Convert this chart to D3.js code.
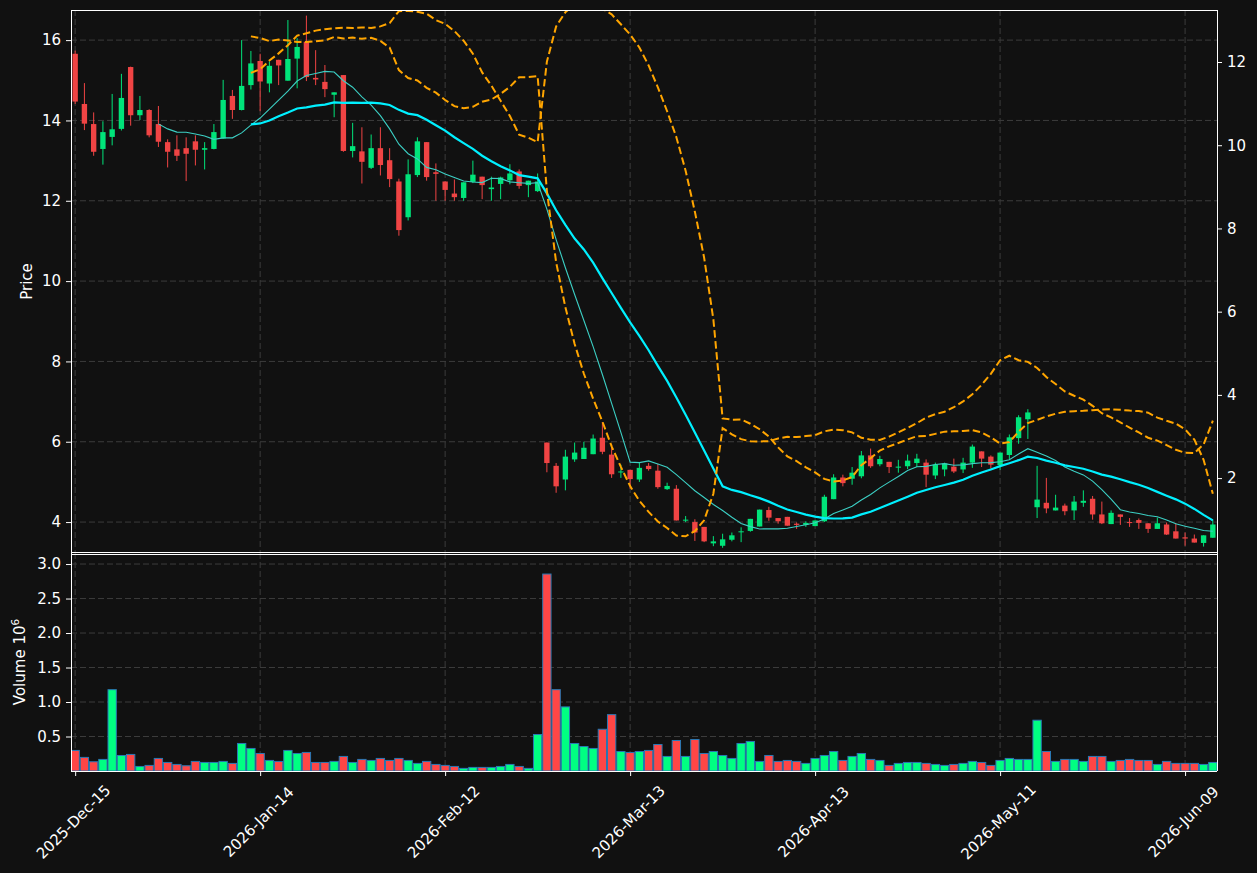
<!DOCTYPE html>
<html><head><meta charset="utf-8">
<script src="https://cdn.jsdelivr.net/npm/d3@7"></script>
<style>html,body{margin:0;padding:0;background:#111111;} svg{display:block;}</style>
</head><body><div id="chart"></div>
<script>
// ---------------- data ----------------
const openP  = [15.66,14.41,13.91,13.29,13.59,13.79,15.33,14.13,14.26,13.91,13.46,13.28,13.31,13.48,13.27,13.29,13.55,14.61,14.26,14.88,
15.48,14.92,15.51,14.99,15.54,15.96,15.06,14.96,14.64,15.13,13.24,13.23,12.82,13.31,13.01,12.48,11.59,12.64,13.46,12.71,
12.48,12.18,12.07,12.47,12.60,12.29,12.42,12.51,12.73,12.39,12.24,5.98,5.40,5.06,5.56,5.57,5.69,6.10,5.68,5.24,
5.30,5.06,5.40,5.28,4.82,4.83,4.05,4.00,3.88,3.47,3.41,3.56,3.75,3.78,3.89,4.30,4.10,4.13,3.96,3.93,
3.90,4.02,4.57,5.11,5.08,5.14,5.66,5.44,5.50,5.36,5.39,5.47,5.48,5.16,5.31,5.38,5.31,5.48,5.76,5.63,
5.42,5.67,6.09,6.56,4.37,4.48,4.29,4.41,4.29,4.48,4.58,4.19,3.95,4.19,4.00,4.05,3.97,3.83,3.94,3.77,
3.62,3.59,3.48,3.61];
const highP  = [15.74,14.93,14.20,13.98,14.66,15.16,15.34,14.61,14.28,14.36,13.53,13.63,13.58,13.63,13.46,13.91,15.01,14.76,16.00,15.73,
15.66,15.47,15.51,16.50,16.05,16.61,15.75,15.38,14.70,15.13,13.94,13.83,13.65,13.83,13.31,12.55,13.03,13.58,13.46,12.93,
12.48,12.53,12.46,13.00,12.60,12.60,12.60,12.91,12.78,12.50,12.68,5.98,5.47,5.80,5.98,6.00,6.18,6.49,5.93,5.43,
5.30,5.48,5.47,5.45,4.98,4.92,4.15,4.07,3.88,3.65,3.71,3.74,3.87,4.08,4.31,4.38,4.10,4.13,3.99,4.02,
4.04,4.68,5.19,5.18,5.37,5.77,5.83,5.65,5.50,5.55,5.68,5.70,5.56,5.48,5.48,5.58,5.60,5.93,5.76,5.66,
5.73,6.18,6.66,6.81,5.40,5.10,4.68,4.46,4.65,4.79,4.65,4.51,4.29,4.19,4.10,4.09,3.97,4.11,3.99,3.98,
3.74,3.69,3.67,4.05];
const lowP   = [14.41,13.76,13.12,12.90,13.38,13.75,13.87,14.01,13.58,13.34,12.83,12.99,12.49,12.88,12.78,13.28,13.54,14.04,14.25,14.77,
14.23,14.70,14.88,14.99,14.80,14.98,14.88,14.58,14.08,13.22,13.08,12.43,12.79,12.63,12.34,11.13,11.51,12.59,12.50,12.00,
12.00,12.00,12.00,12.44,12.04,12.00,12.04,12.41,12.30,12.09,12.22,5.24,4.73,4.79,5.50,5.57,5.69,5.69,5.10,5.10,
4.83,5.00,5.28,4.83,4.80,4.04,4.00,3.53,3.50,3.40,3.36,3.52,3.50,3.76,3.89,4.03,3.96,3.91,3.83,3.88,
3.90,4.00,4.57,4.89,4.93,5.09,5.35,5.39,5.22,5.23,5.32,5.37,4.87,5.07,5.14,5.22,5.22,5.35,5.37,5.33,
5.30,5.57,5.95,6.07,4.10,4.22,4.29,4.17,4.05,4.38,4.06,3.95,3.95,3.93,3.88,3.83,3.73,3.83,3.68,3.59,
3.41,3.49,3.39,3.61];
const closeP = [14.47,13.92,13.22,13.71,13.78,14.56,14.13,14.26,13.63,13.47,13.22,13.12,13.17,13.27,13.31,13.71,14.51,14.26,14.86,15.42,
14.97,15.36,15.37,15.53,15.83,15.08,15.02,14.78,14.70,13.24,13.36,12.97,13.31,12.89,12.54,11.27,12.66,13.48,12.59,12.67,
12.27,12.09,12.46,12.65,12.39,12.33,12.58,12.68,12.37,12.50,12.48,5.47,4.89,5.63,5.73,5.85,6.08,5.75,5.19,5.26,
5.07,5.35,5.32,4.87,4.90,4.04,4.06,3.74,3.52,3.52,3.57,3.67,3.77,4.08,4.31,4.11,4.02,3.91,3.93,3.98,
4.04,4.63,5.11,4.97,5.23,5.66,5.39,5.57,5.37,5.38,5.53,5.58,5.18,5.43,5.46,5.26,5.48,5.88,5.58,5.43,
5.73,6.11,6.61,6.73,4.56,4.34,4.36,4.27,4.51,4.53,4.19,3.97,4.23,4.13,3.98,3.98,3.83,3.97,3.69,3.59,
3.59,3.49,3.67,3.94];
const volumeM = [0.298,0.197,0.134,0.168,1.179,0.225,0.240,0.066,0.081,0.182,0.124,0.095,0.076,0.139,0.124,0.124,0.139,0.110,0.399,0.327,
0.254,0.153,0.139,0.298,0.254,0.269,0.124,0.124,0.139,0.211,0.124,0.168,0.153,0.182,0.153,0.182,0.153,0.110,0.139,0.095,
0.081,0.066,0.038,0.052,0.052,0.052,0.066,0.095,0.066,0.038,0.529,2.855,1.179,0.929,0.399,0.355,0.327,0.605,0.817,0.283,
0.269,0.283,0.298,0.384,0.211,0.442,0.211,0.457,0.254,0.283,0.225,0.182,0.399,0.428,0.139,0.225,0.139,0.153,0.139,0.110,
0.182,0.225,0.283,0.153,0.211,0.254,0.168,0.153,0.081,0.110,0.124,0.124,0.110,0.095,0.081,0.095,0.110,0.139,0.124,0.081,
0.153,0.182,0.168,0.168,0.736,0.283,0.139,0.168,0.168,0.139,0.211,0.211,0.139,0.153,0.168,0.153,0.153,0.095,0.139,0.110,
0.110,0.110,0.095,0.124];
const tickIdx    = [0,20,40,60,80,100,120];
const tickLabels = ["2025-Dec-15","2026-Jan-14","2026-Feb-12","2026-Mar-13","2026-Apr-13","2026-May-11","2026-Jun-09"];
const priceTicks = [4,6,8,10,12,14,16];
const bandTicks  = [2,4,6,8,10,12];
const volTicks   = [0.5,1.0,1.5,2.0,2.5,3.0];

// ---------------- derived (rolling stats of closes) ----------------
const n = closeP.length;
function rolling(arr, w, f){ return arr.map((_, i) => i < w-1 ? null : f(arr.slice(i-w+1, i+1))); }
const ma10 = rolling(closeP, 10, d3.mean);
const ma20 = rolling(closeP, 20, d3.mean);
const sd20 = rolling(closeP, 20, d3.deviation);
const bbUp = ma20.map((m,i) => m == null ? null : m + 2*sd20[i]);
const bbLo = ma20.map((m,i) => m == null ? null : m - 2*sd20[i]);

// ---------------- layout ----------------
const W = 1257, H = 873;
const L = 71, R = 1217, pT = 10, pB = 553, vT = 553, vB = 771;
const FONT = "'DejaVu Sans', sans-serif";
const FS = "15px";
const upC = "#00e47a", dnC = "#f04444", upV = "#00ff82", dnV = "#ff4646", edgeV = "#2a78b4";
const gridC = "#3c3c3c";

const svg = d3.select("#chart").append("svg").attr("width", W).attr("height", H)
  .style("background", "#111111").style("font-family", FONT);

const x  = d3.scaleLinear().domain([-0.45, n - 1 + 0.45]).range([L, R]);
const y  = d3.scaleLinear().domain([3.23, 16.75]).range([pB, pT]);
const y2 = d3.scaleLinear().domain([0.2, 13.25]).range([pB, pT]);
const yv = d3.scaleLinear().domain([0, 3.16]).range([vB, vT]);
const step = x(1) - x(0);

const defs = svg.append("defs");
defs.append("clipPath").attr("id","clipP").append("rect").attr("x",L).attr("y",pT).attr("width",R-L).attr("height",pB-pT);
defs.append("clipPath").attr("id","clipV").append("rect").attr("x",L).attr("y",vT).attr("width",R-L).attr("height",vB-vT);

// grid
const grid = svg.append("g").attr("stroke", gridC).attr("stroke-width", 1).attr("stroke-dasharray", "6,3");
grid.selectAll(".hp").data(priceTicks).join("line").attr("class","hp").attr("x1",L).attr("x2",R).attr("y1",d=>y(d)).attr("y2",d=>y(d));
grid.selectAll(".hv").data(volTicks).join("line").attr("class","hv").attr("x1",L).attr("x2",R).attr("y1",d=>yv(d)).attr("y2",d=>yv(d));
grid.selectAll(".vp").data(tickIdx).join("line").attr("class","vp").attr("x1",d=>x(d)).attr("x2",d=>x(d)).attr("y1",pT).attr("y2",pB);
grid.selectAll(".vv").data(tickIdx).join("line").attr("class","vv").attr("x1",d=>x(d)).attr("x2",d=>x(d)).attr("y1",vT).attr("y2",vB);

// candles
const idx = d3.range(n);
const pg = svg.append("g").attr("clip-path","url(#clipP)");
const cg = pg.append("g");
const isUp = i => closeP[i] >= openP[i];
cg.selectAll(".wick").data(idx).join("line").attr("class","wick")
  .attr("x1", i => x(i)).attr("x2", i => x(i))
  .attr("y1", i => y(highP[i])).attr("y2", i => y(lowP[i]))
  .attr("stroke", i => isUp(i) ? upC : dnC).attr("stroke-width", 1);
const bw = step * 0.58;
cg.selectAll(".body").data(idx).join("rect").attr("class","body")
  .attr("x", i => x(i) - bw/2).attr("width", bw)
  .attr("y", i => y(Math.max(openP[i], closeP[i])))
  .attr("height", i => Math.max(1, Math.abs(y(openP[i]) - y(closeP[i]))))
  .attr("fill", i => isUp(i) ? upC : dnC);

// moving averages and bands
const lineP = arr => d3.line().defined(i => arr[i] != null).x(i => x(i)).y(i => y(arr[i]))(idx);
pg.append("path").attr("d", lineP(ma10)).attr("fill","none").attr("stroke","#3ccfc4").attr("stroke-width",1.1);
pg.append("path").attr("d", lineP(ma20)).attr("fill","none").attr("stroke","#00f0ff").attr("stroke-width",2.2);
pg.append("path").attr("d", lineP(bbUp)).attr("fill","none").attr("stroke","#ffa500").attr("stroke-width",2).attr("stroke-dasharray","7.5,3.5");
pg.append("path").attr("d", d3.line().defined(i => bbLo[i] != null).x(i => x(i)).y(i => y2(bbLo[i]))(idx))
  .attr("fill","none").attr("stroke","#ffa500").attr("stroke-width",2).attr("stroke-dasharray","7.5,3.5");

// volume
const vg = svg.append("g").attr("clip-path","url(#clipV)");
const vbw = step * 0.9;
vg.selectAll("rect").data(idx).join("rect")
  .attr("x", i => x(i) - vbw/2).attr("width", vbw)
  .attr("y", i => yv(volumeM[i])).attr("height", i => yv(0) - yv(volumeM[i]))
  .attr("fill", i => isUp(i) ? upV : dnV).attr("stroke", edgeV).attr("stroke-width", 1);

// axes
function styleAxis(g){
  g.select(".domain").remove();
  g.selectAll(".tick line").attr("stroke","#ffffff").attr("stroke-width",1);
  g.selectAll(".tick text").attr("fill","#ffffff").style("font-size",FS).style("font-family", FONT);
}
svg.append("g").attr("transform",`translate(${L},0)`)
  .call(d3.axisLeft(y).tickValues(priceTicks).tickFormat(d3.format("d")).tickSize(5).tickPadding(5)).call(styleAxis);
svg.append("g").attr("transform",`translate(${R},0)`)
  .call(d3.axisRight(y2).tickValues(bandTicks).tickFormat(d3.format("d")).tickSize(5).tickPadding(5)).call(styleAxis);
svg.append("g").attr("transform",`translate(${L},0)`)
  .call(d3.axisLeft(yv).tickValues(volTicks).tickFormat(d3.format(".1f")).tickSize(5).tickPadding(5)).call(styleAxis);
const xa = svg.append("g").attr("transform",`translate(0,${vB})`)
  .call(d3.axisBottom(x).tickValues(tickIdx).tickFormat((d,k) => tickLabels[k]).tickSize(5).tickPadding(5));
xa.call(styleAxis);
xa.selectAll(".tick text")
  .attr("y", 0).attr("dy", null)
  .attr("text-anchor","middle").attr("dominant-baseline","central")
  .attr("transform", "translate(-2,51) rotate(-45)");

// spines (crisp)
const sp = svg.append("g").attr("stroke","#ffffff").attr("stroke-width",1).attr("shape-rendering","crispEdges");
[[L,pT,R,pT],[L,pT,L,pB],[R,pT,R,pB],[L,pB-0.5,R,pB-0.5],
 [L,vT+1.5,R,vT+1.5],[L,vT,L,vB],[R,vT,R,vB],[L,vB,R,vB]].forEach(s =>
  sp.append("line").attr("x1",s[0]).attr("y1",s[1]).attr("x2",s[2]).attr("y2",s[3]));

// axis labels
svg.append("text").attr("transform",`translate(27,${(pT+pB)/2}) rotate(-90)`)
  .attr("text-anchor","middle").attr("dominant-baseline","central")
  .attr("fill","#ffffff").style("font-size",FS).text("Price");
const vl = svg.append("text").attr("transform",`translate(20,${(vT+vB)/2}) rotate(-90)`)
  .attr("text-anchor","middle").attr("dominant-baseline","central")
  .attr("fill","#ffffff").style("font-size",FS);
vl.append("tspan").text("Volume  10");
vl.append("tspan").attr("dy","-0.45em").style("font-size","10.5px").text("6");
</script>
</body></html>
